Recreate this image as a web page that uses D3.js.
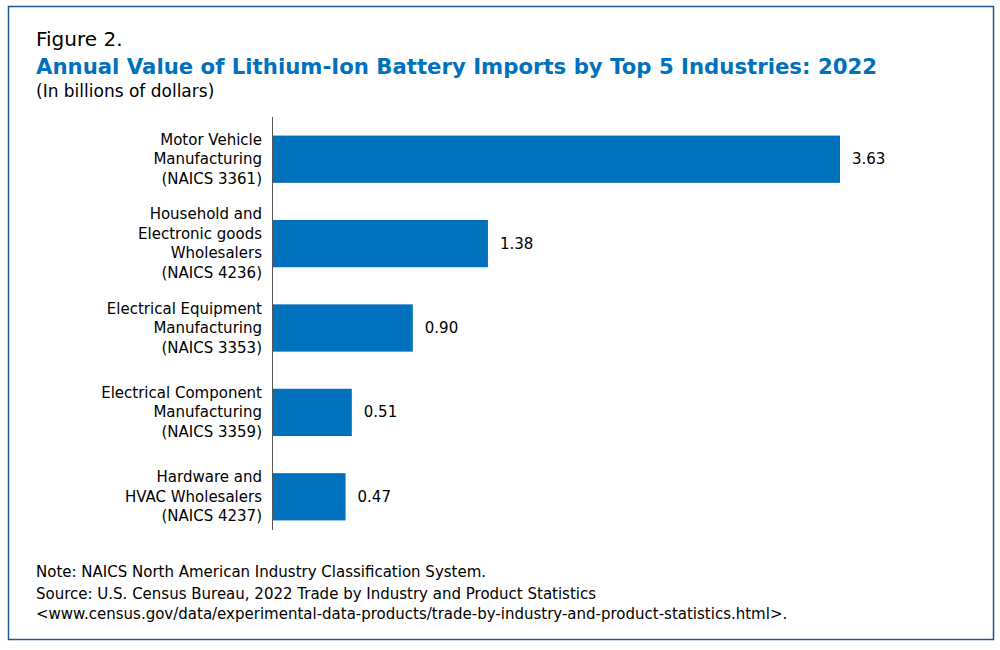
<!DOCTYPE html>
<html><head><meta charset="utf-8">
<script src="https://cdn.jsdelivr.net/npm/d3@7"></script>
<style>body{margin:0;background:#fff}text{font-family:"DejaVu Sans",sans-serif}</style>
</head><body><svg id="c" width="1000" height="650"></svg>
<script>
const categories = [
  ["Motor Vehicle","Manufacturing","(NAICS 3361)"],
  ["Household and","Electronic goods","Wholesalers","(NAICS 4236)"],
  ["Electrical Equipment","Manufacturing","(NAICS 3353)"],
  ["Electrical Component","Manufacturing","(NAICS 3359)"],
  ["Hardware and","HVAC Wholesalers","(NAICS 4237)"]
];
const values = [3.63, 1.38, 0.90, 0.51, 0.47];
const valueLabels = ["3.63","1.38","0.90","0.51","0.47"];

const svg = d3.select("#c");
svg.append("rect").attr("x",8.5).attr("y",6.5).attr("width",985).attr("height",633)
  .attr("fill","none").attr("stroke","#205493").attr("stroke-width",1.5);
svg.append("text").attr("x",36).attr("y",46).attr("font-size",20).attr("fill","#000").text("Figure 2.");
svg.append("text").attr("x",36).attr("y",74).attr("font-size",21.5).attr("font-weight","bold").attr("fill","#0071bc")
  .attr("textLength",841).attr("lengthAdjust","spacingAndGlyphs")
  .text("Annual Value of Lithium-Ion Battery Imports by Top 5 Industries: 2022");
svg.append("text").attr("x",36).attr("y",97).attr("font-size",17).text("(In billions of dollars)");

const x = d3.scaleLinear().domain([0,3.63]).range([272,840]);
const y = d3.scaleBand().domain(d3.range(values.length)).range([117,539]).paddingInner(0.44).paddingOuter(0.22);

svg.append("g").selectAll("rect").data(values).join("rect")
  .attr("x",x(0)).attr("y",(d,i)=>y(i)).attr("width",d=>x(d)-x(0)).attr("height",y.bandwidth()).attr("fill","#0071bc");
svg.append("line").attr("x1",272.5).attr("x2",272.5).attr("y1",117).attr("y2",530).attr("stroke","#555").attr("stroke-width",1);

svg.append("g").selectAll("text").data(values).join("text")
  .attr("x",d=>x(d)+12).attr("y",(d,i)=>y(i)+y.bandwidth()/2+5).attr("font-size",15).text((d,i)=>valueLabels[i]);

categories.forEach((lines,i)=>{
  const cy = y(i)+y.bandwidth()/2, lh=19.5;
  const t = svg.append("text").attr("text-anchor","end").attr("font-size",15);
  lines.forEach((l,j)=>t.append("tspan").attr("x",262).attr("y",cy+(j-(lines.length-1)/2)*lh+5).text(l));
});

const notes = ["Note: NAICS North American Industry Classification System.",
 "Source: U.S. Census Bureau, 2022 Trade by Industry and Product Statistics",
 "<www.census.gov/data/experimental-data-products/trade-by-industry-and-product-statistics.html>."];
[577,599,619].forEach((yy,i)=>svg.append("text").attr("x",36).attr("y",yy).attr("font-size",15).text(notes[i]));
</script></body></html>
